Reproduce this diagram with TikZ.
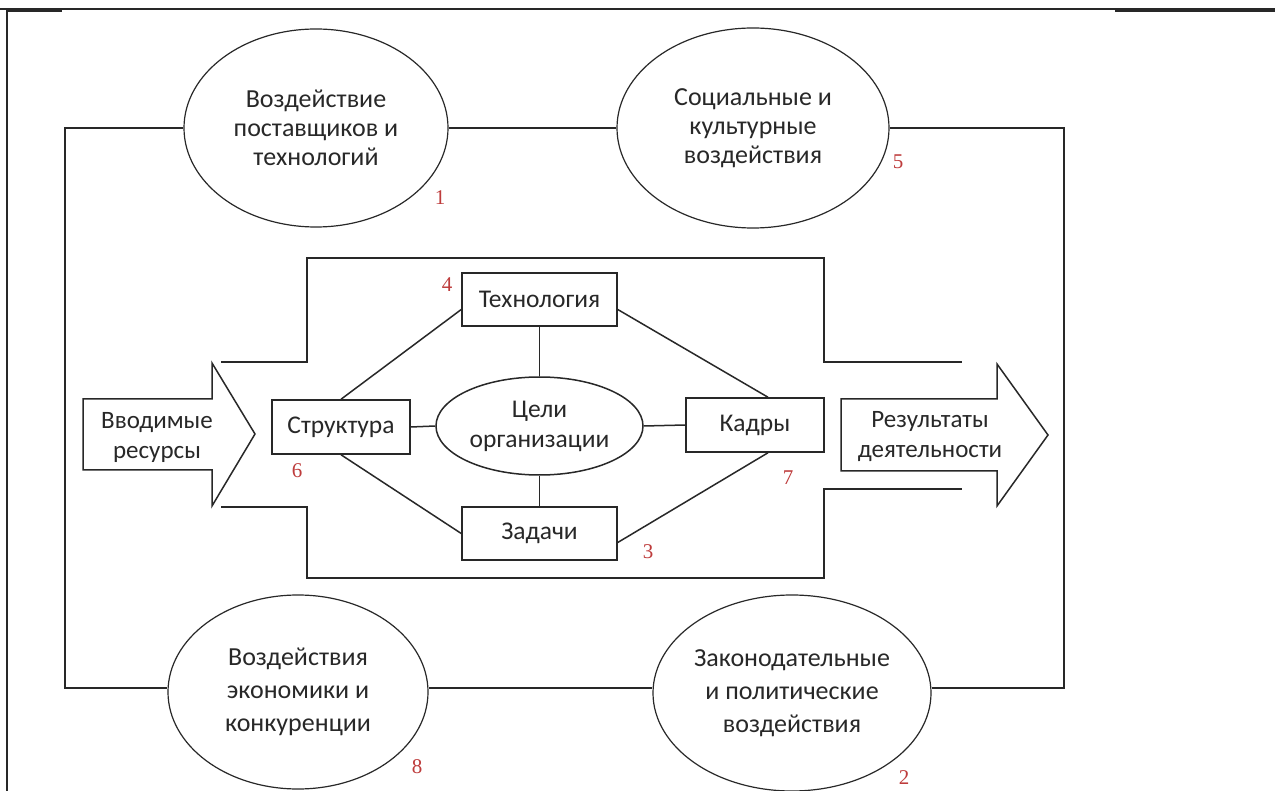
\documentclass[tikz,border=0pt]{standalone}
\usepackage{fontspec}
\setmainfont{Carlito}
\newfontfamily\numfont{Liberation Serif}
\usetikzlibrary{shapes.geometric}
\definecolor{numred}{RGB}{190,60,60}
\definecolor{ink}{RGB}{40,40,40}
\begin{document}
\begin{tikzpicture}[x=1pt,y=-1pt,
  ln/.style={draw=ink, line width=1.5pt},
  oval/.style={ellipse, draw=ink, line width=1.2pt, fill=white, inner sep=0pt, align=center, text=ink, font=\fontsize{26}{29}\selectfont},
  lowoval/.style={oval, font=\fontsize{26}{33}\selectfont},
  box/.style={rectangle, draw=ink, line width=1.5pt, fill=white, inner sep=0pt, align=center, text=ink, font=\fontsize{25.5}{30}\selectfont},
  num/.style={text=numred, font=\numfont\fontsize{21}{21}\selectfont, inner sep=0pt},
  lbl/.style={align=center, text=ink, inner sep=0pt, font=\fontsize{25}{30}\selectfont}]
\useasboundingbox (0,0) rectangle (1275,791);
\fill[white] (0,0) rectangle (1275,791);
% page border
\draw[ln] (0,9) -- (1275,9);
\draw[ln] (7,11) -- (62,11);
\draw[ln] (1115,11) -- (1275,11);
\draw[ln] (7,9) -- (7,791);
% outer ellipses
\node[oval, minimum width=264, minimum height=198] (e1) at (316,128) {Воздействие\\поставщиков и\\технологий};
\node[oval, minimum width=272, minimum height=200] (e5) at (753,128) {Социальные и\\культурные\\воздействия};
\node[lowoval, minimum width=260, minimum height=194] (e8) at (298,692) {Воздействия\\экономики и\\конкуренции};
\node[lowoval, minimum width=278, minimum height=196] (e2) at (792,693) {Законодательные\\и политические\\воздействия};
\coordinate (c1) at (65,128);
\coordinate (c2) at (1064,128);
\coordinate (c3) at (1064,688);
\coordinate (c4) at (65,688);
\draw[ln] (e1.west) -- (c1) -- (c4) -- (e8.west |- c4);
\draw[ln] (e1.east) -- (e5.west);
\draw[ln] (e5.east) -- (c2) -- (c3) -- (e2.east |- c3);
\draw[ln] (e8.east |- c4) -- (e2.west |- c3);
% inner channel
\draw[ln] (221,362) -- (307,362) -- (307,258) -- (824,258) -- (824,362) -- (962,362);
\draw[ln] (221,507) -- (307,507) -- (307,578) -- (824,578) -- (824,489) -- (962,489);
% arrows
\draw[ln, fill=white] (83,399) -- (212,399) -- (212,363) -- (255,434) -- (212,506) -- (212,470) -- (83,470) -- cycle;
\node[lbl] (inres) at (157,437) {Вводимые\\ресурсы};
\draw[ln, fill=white] (841,399) -- (997,399) -- (997,364) -- (1048,435) -- (997,506) -- (997,471) -- (841,471) -- cycle;
\node[lbl] (outres) at (930,437) {Результаты\\деятельности};
% inner nodes
\node[box, minimum width=155, minimum height=53] (tech) at (539.5,299.5) {Технология};
\node[box, minimum width=138, minimum height=54] (struct) at (341,427) {Структура};
\node[box, minimum width=138, minimum height=54] (kadr) at (755,425) {Кадры};
\node[box, minimum width=155, minimum height=53] (zad) at (539.5,533.5) {Задачи};
\node[oval, line width=1.5pt, minimum width=207, minimum height=98, font=\fontsize{25.5}{30}\selectfont] (goal) at (539.5,426) {Цели\\организации};
\draw[ln] (tech.south) -- (goal.north);
\draw[ln] (goal.south) -- (zad.north);
\draw[ln] (struct.east) -- (goal.west);
\draw[ln] (goal.east) -- (kadr.west);
\draw[ln] ([yshift=-10pt]tech.west) -- (struct.north);
\draw[ln] (struct.south) -- (zad.west);
\draw[ln] ([yshift=-10pt]tech.east) -- ([xshift=13pt]kadr.north);
\draw[ln] ([yshift=-9pt]zad.east) -- ([xshift=13pt]kadr.south);
% numbers
\node[num] (n1) at (440,198) {1};
\node[num] (n5) at (898,162) {5};
\node[num] (n8) at (417,767) {8};
\node[num] (n2) at (904,778) {2};
\node[num] (n4) at (447,285) {4};
\node[num] (n6) at (297,471) {6};
\node[num] (n7) at (788,478) {7};
\node[num] (n3) at (648,552) {3};
\end{tikzpicture}
\end{document}
